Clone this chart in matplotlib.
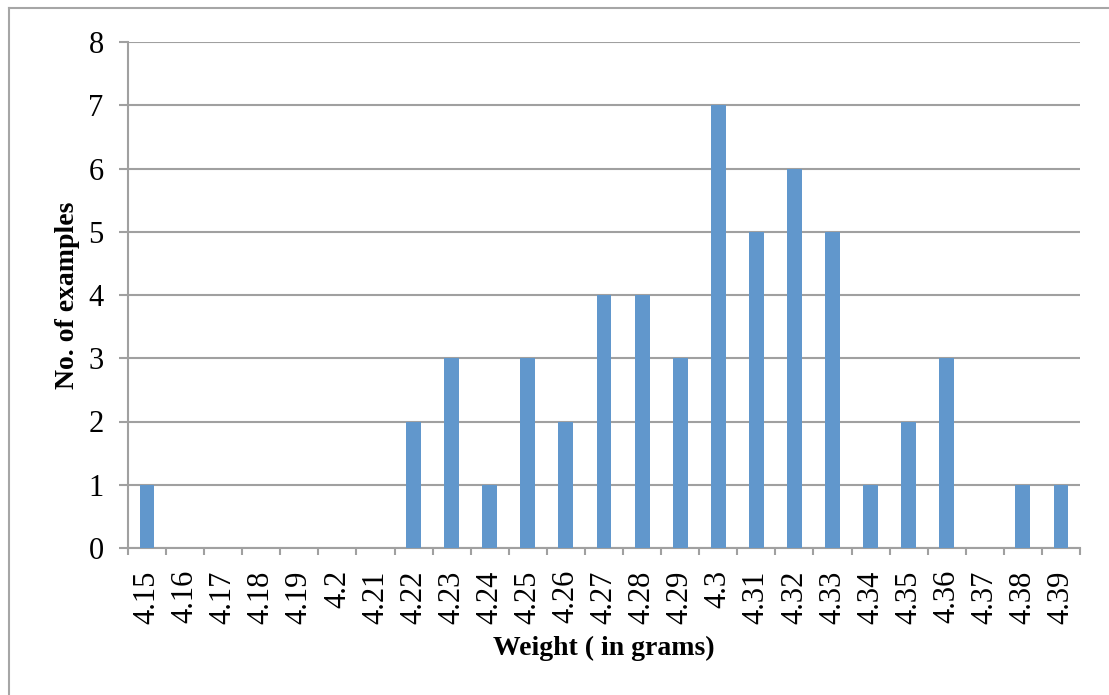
import numpy as np
import matplotlib
matplotlib.use("Agg")
import matplotlib.pyplot as plt
from matplotlib.lines import Line2D

# Weight bins and how many examples fell in each
weights = ["4.15", "4.16", "4.17", "4.18", "4.19", "4.2", "4.21", "4.22", "4.23",
           "4.24", "4.25", "4.26", "4.27", "4.28", "4.29", "4.3", "4.31", "4.32",
           "4.33", "4.34", "4.35", "4.36", "4.37", "4.38", "4.39"]
counts = [1, 0, 0, 0, 0, 0, 0, 2, 3, 1, 3, 2, 4, 4, 3, 7, 5, 6, 5, 1, 2, 3, 0, 1, 1]
y_ticks = [0, 1, 2, 3, 4, 5, 6, 7, 8]

GRID = "#A0A0A0"
BAR = "#6197CC"

plt.rcParams["font.family"] = ["Liberation Serif", "DejaVu Serif"]

W, H = 1109, 695
fig = plt.figure(figsize=(W / 100, H / 100), dpi=100)
ax = fig.add_axes([128 / W, 1 - 548 / H, (1080 - 128) / W, (548 - 42) / H])

x = np.arange(len(weights))
ax.bar(x, counts, width=0.39, color=BAR, zorder=3)

ax.set_xlim(-0.5, len(weights) - 0.5)
ax.set_ylim(0, 8)
ax.set_yticks(y_ticks)
ax.yaxis.grid(True, color=GRID, linewidth=1.5, zorder=0)
ax.tick_params(axis="y", length=6.5, width=1.5, color=GRID, pad=11, labelsize=22)

# labels sit at bar centres, tick marks on the bin boundaries
ax.set_xticks(x)
ax.set_xticklabels(weights, rotation=90)
ax.set_xticks(np.arange(len(weights) + 1) - 0.5, minor=True)
ax.tick_params(axis="x", which="major", length=0, pad=16, labelsize=22)
ax.tick_params(axis="x", which="minor", length=5, width=1.5, color=GRID)

for side in ["top", "right"]:
    ax.spines[side].set_visible(False)
for side in ["left", "bottom"]:
    ax.spines[side].set_color(GRID)
    ax.spines[side].set_linewidth(1.5)

ax.set_xlabel("Weight ( in grams)", fontsize=20, fontweight="bold", labelpad=9)
ax.set_ylabel("No. of examples", fontsize=20, fontweight="bold", labelpad=6)

# chart frame along the top and left edges
fig.add_artist(Line2D([8.5 / W, 8.5 / W], [0, 1 - 7.5 / H], color="#A6A6A6", linewidth=1.5))
fig.add_artist(Line2D([8.5 / W, 1], [1 - 7.5 / H, 1 - 7.5 / H], color="#A6A6A6", linewidth=1.5))

fig.savefig("out.png", dpi=100, facecolor="white")
